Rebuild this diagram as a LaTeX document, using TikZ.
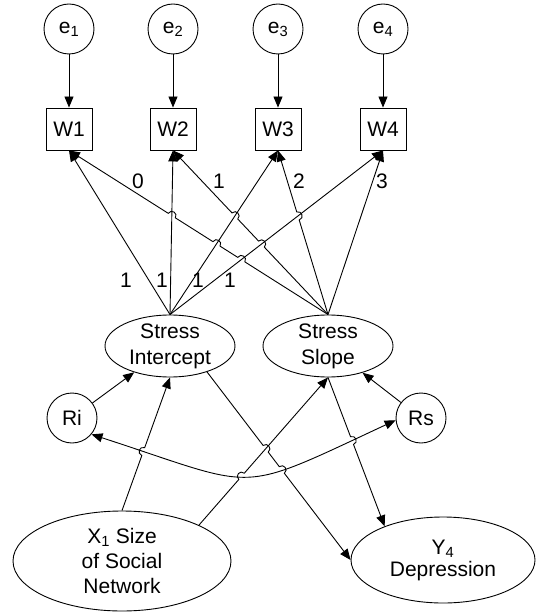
\documentclass[tikz,border=0pt]{standalone}
\usepackage{fontspec}
\setmainfont{Liberation Sans}
\usetikzlibrary{arrows.meta,calc,intersections,shapes.geometric}
\def\hr{4.2pt}
\def\hop[#1](#2)(#3)(#4){-- ($(#2)!\hr!(#3)$) to[bend #1=90,looseness=1.7] ($(#2)!\hr!(#4)$)}

\begin{document}
\begin{tikzpicture}[x=1pt,y=1pt,line width=0.9pt,
	arr/.style={-{Triangle[length=11pt,width=9pt]}},
	biarr/.style={{Triangle[length=11pt,width=9pt]}-{Triangle[length=11pt,width=9pt]}},
	err/.style={circle,draw,minimum size=50pt,inner sep=0pt},
	obs/.style={rectangle,draw,minimum width=46pt,minimum height=42pt,inner sep=0pt},
	lat/.style={ellipse,draw,align=center,inner sep=-5pt},
	every node/.append style={font=\fontsize{21}{26}\selectfont}]
		%%%%% START %%%%%
		\useasboundingbox (0,0) rectangle (536,-612);
		
		\node[err] (e1) at (69,-29) {e\textsubscript{1}};
		\node[err] (e2) at (173,-29) {e\textsubscript{2}};
		\node[err] (e3) at (278,-29) {e\textsubscript{3}};
		\node[err] (e4) at (383,-29) {e\textsubscript{4}};
		
		\node[obs] (w1) at (69,-129) {W1};
		\node[obs] (w2) at (173,-129) {W2};
		\node[obs] (w3) at (278,-129) {W3};
		\node[obs] (w4) at (383,-129) {W4};
		
		\node[lat,minimum width=130pt,minimum height=62pt] (si) at (170,-346) {Stress\\Intercept};
		\node[lat,minimum width=130pt,minimum height=62pt] (ss) at (328,-346) {Stress\\Slope};
		\node[err] (ri) at (72,-418) {Ri};
		\node[err] (rs) at (421,-418) {Rs};
		\node[lat,minimum width=218pt,minimum height=100pt] (x1) at (122,-561) {X\textsubscript{1} Size\\[-1pt]of Social\\[-1pt]Network};
		\node[lat,minimum width=184pt,minimum height=86pt] (y4) at (443,-560) {Y\textsubscript{4}\\[-4pt]Depression};
		
		\foreach \i in {1,...,4}
			\draw[arr] (e\i) -- (w\i);
		
		% intercept loadings
		\draw[arr,name path=iw1] (si.north) -- (w1.south);
		\draw[arr,name path=iw2] (si.north) -- (w2.south);
		\draw[arr,name path=iw3] (si.north) -- (w3.south);
		\draw[arr,name path=iw4] (si.north) -- (w4.south);
		
		% slope loadings, hopping over the intercept ones
		\path[name path=sw1] (ss.north) -- (w1.south);
		\path[name path=sw2] (ss.north) -- (w2.south);
		\path[name path=sw3] (ss.north) -- (w3.south);
		\path[name intersections={of=sw1 and iw4,by=a1}];
		\path[name intersections={of=sw1 and iw3,by=a2}];
		\path[name intersections={of=sw1 and iw2,by=a3}];
		\path[name intersections={of=sw2 and iw4,by=a4}];
		\path[name intersections={of=sw2 and iw3,by=a5}];
		\path[name intersections={of=sw3 and iw4,by=a6}];
		\draw[arr] (ss.north) \hop[right](a1)(ss.north)(w1.south) \hop[right](a2)(ss.north)(w1.south) \hop[right](a3)(ss.north)(w1.south) -- (w1.south);
		\draw[arr] (ss.north) \hop[right](a4)(ss.north)(w2.south) \hop[right](a5)(ss.north)(w2.south) -- (w2.south);
		\draw[arr] (ss.north) \hop[right](a6)(ss.north)(w3.south) -- (w3.south);
		\draw[arr] (ss.north) -- (w4.south);
		
		\node at (126,-280) {1};
		\node at (162,-280) {1};
		\node at (198,-280) {1};
		\node at (230,-280) {1};
		\node at (138,-181) {0};
		\node at (219,-181) {1};
		\node at (299,-181) {2};
		\node at (382,-181) {3};
		
		% residuals
		\draw[arr] (ri) -- (si);
		\draw[arr] (rs) -- (ss);
		\draw[biarr,name path=rr] (ri.-40) to[out=-18,in=205,looseness=1.5] (rs.185);
		
		% predictor and outcome
		\path[name path=xi] (x1.north) -- (si.south);
		\path[name path=xs] (x1.25) -- (ss.south);
		\path[name path=iy] (si.-35) -- (y4.west);
		\path[name path=sy] (ss.south) -- (y4.150);
		\path[name intersections={of=xi and rr,by=b1}];
		\path[name intersections={of=xs and rr,by=b2}];
		\path[name intersections={of=iy and xs,by=b3}];
		\path[name intersections={of=iy and rr,by=b4}];
		\path[name intersections={of=sy and rr,by=b5}];
		\draw[arr] (x1.north) \hop[left](b1)(x1.north)(si.south) -- (si.south);
		\draw[arr] (x1.25) \hop[left](b2)(x1.25)(ss.south) -- (ss.south);
		\draw[arr] (si.-35) \hop[left](b3)(si.-35)(y4.west) \hop[left](b4)(si.-35)(y4.west) -- (y4.west);
		\draw[arr] (ss.south) \hop[left](b5)(ss.south)(y4.150) -- (y4.150);
		
		%%%%% END %%%%%
	\end{tikzpicture}
\end{document}
